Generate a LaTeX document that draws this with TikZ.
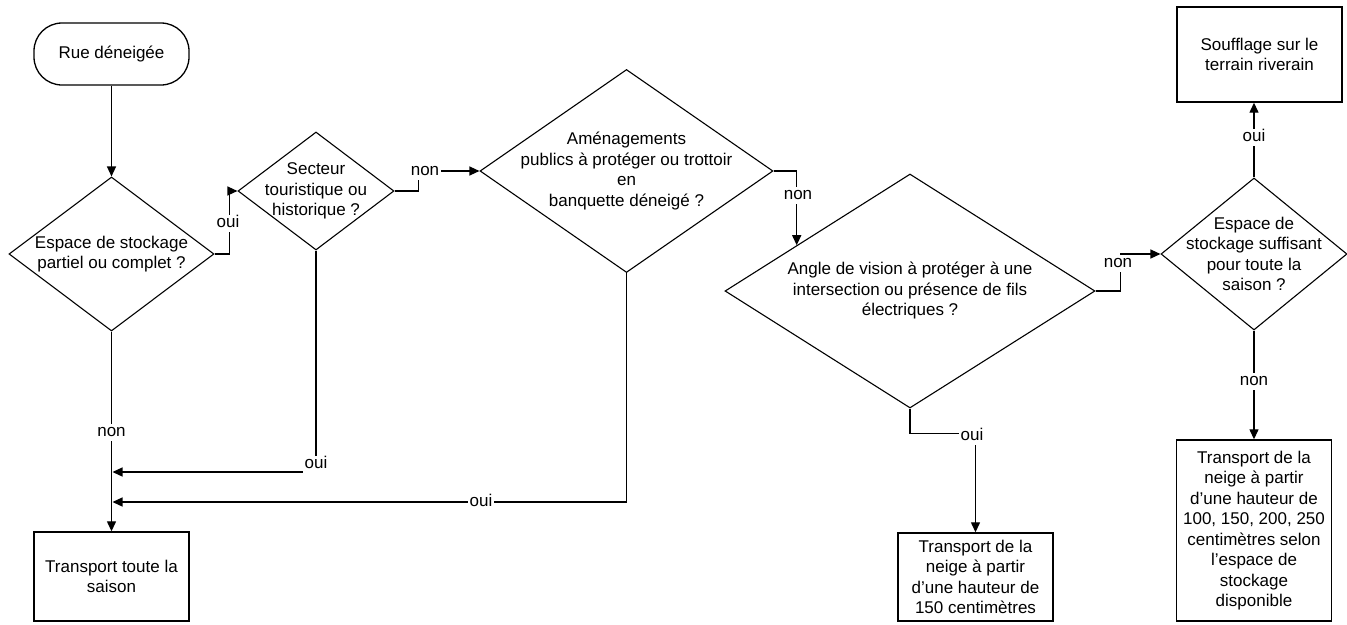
\documentclass[tikz,border=0pt]{standalone}
\usepackage{fontspec}
\setmainfont{Liberation Sans}
\usetikzlibrary{shapes.geometric,arrows.meta}
\begin{document}
\begin{tikzpicture}[x=1pt,y=-1pt,
  every node/.style={font=\fontsize{17}{20.5}\selectfont},
  dia/.style={draw, diamond, line width=1.1pt, inner sep=0pt},
  box/.style={draw, rectangle, line width=1.4pt, align=center, inner sep=2pt},
  txt/.style={align=center, inner sep=0pt},
  lbl/.style={fill=white, inner sep=1.5pt, text height=11pt, text depth=3pt},
  arr/.style={line width=1.3pt, -{Triangle[length=10pt,width=9pt]}}]
\useasboundingbox (0,0) rectangle (1347,624);

% nodes
\node[draw, rectangle, rounded corners=28pt, line width=1.3pt, minimum width=155pt, minimum height=62pt, inner sep=0pt] (start) at (111.5,54) {Rue déneigée};

\node[dia, minimum width=205pt, minimum height=154pt] (d1) at (111.5,254) {};
\node[txt] (t1) at (d1) {Espace de stockage\\partiel ou complet ?};

\node[dia, minimum width=156pt, minimum height=118pt] (d2) at (316,191) {};
\node[txt] (t2) at (d2) {Secteur\\touristique ou\\historique ?};

\node[dia, minimum width=293pt, minimum height=203pt] (d3) at (626.5,171) {};
\node[txt] (t3) at (d3) {Aménagements\\publics à protéger ou trottoir\\en\\banquette déneigé ?};

\node[dia, minimum width=370pt, minimum height=234pt] (d4) at (910,291) {};
\node[txt] (t4) at (d4) {Angle de vision à protéger à une\\intersection ou présence de fils\\électriques ?};

\node[dia, minimum width=186pt, minimum height=152pt] (d5) at (1254,254) {};
\node[txt] (t5) at (d5) {Espace de\\stockage suffisant\\pour toute la\\saison ?};

\node[box, minimum width=165pt, minimum height=95pt] (souff) at (1259.5,54.5) {Soufflage sur le\\terrain riverain};
\node[box, minimum width=155pt, minimum height=89pt] (box1) at (111.5,576.5) {Transport toute la\\saison};
\node[box, minimum width=155pt, minimum height=88pt] (box5) at (975.5,577) {Transport de la\\neige à partir\\d'une hauteur de\\150 centimètres};
\node[box, minimum width=155pt, minimum height=181pt] (box6) at (1254,530.5) {Transport de la\\neige à partir\\d'une hauteur de\\100, 150, 200, 250\\centimètres selon\\l'espace de\\stockage\\disponible};

\coordinate (j1) at (112.5,472);
\coordinate (j2) at (112.5,502);

% connectors
\draw[arr] (start) -- (d1);
\draw[arr] (d1.east) -- ++(15,0) |- (d2.west);
\draw[arr] (d2.east) -- ++(24,0) |- (d3.west);
\draw[arr] (d3.east) -| (d4.158);
\draw[arr] (d4.east) -- ++(25,0) |- (d5.west);
\draw[arr] (d5.north) -- (d5.north |- souff.south);
\draw[arr] (d5.south) -- (box6.north);
\draw[arr] (d4.south) -- ++(0,25) -| (box5.north);
\draw[arr] (d1.south) -- (box1.north);
\draw[arr] (d2.south) |- (j1);
\draw[arr] (d3.south) |- (j2);

% labels
\node[lbl] (l1) at (228,223) {oui};
\node[lbl] (l2) at (425,171) {non};
\node[lbl] (l3) at (798,195) {non};
\node[lbl] (l4) at (1118,263) {non};
\node[lbl] (l5) at (1254,137) {oui};
\node[lbl] (l6) at (1254,381) {non};
\node[lbl] (l7) at (972,436) {oui};
\node[lbl] (l8) at (111.5,432) {non};
\node[lbl] (l9) at (316,464) {oui};
\node[lbl] (l10) at (481,502) {oui};
\end{tikzpicture}
\end{document}
